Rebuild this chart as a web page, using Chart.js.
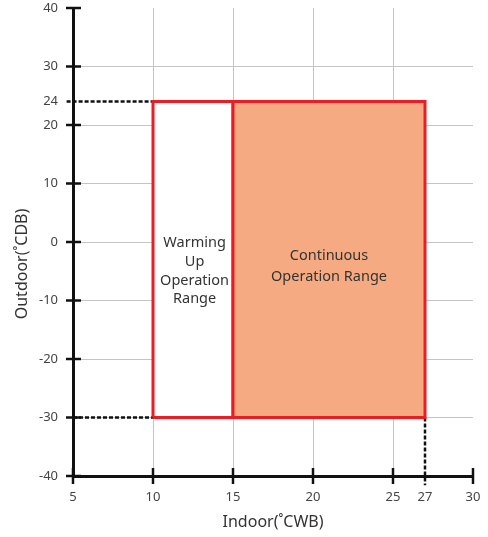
<!DOCTYPE html>
<html>
<head>
<meta charset="utf-8">
<script src="https://cdn.jsdelivr.net/npm/chart.js@4.4.1/dist/chart.umd.min.js"></script>
<style>
  html, body { margin: 0; padding: 0; background: #fff; }
  #wrap { width: 488px; height: 537px; }
</style>
</head>
<body>
<div id="wrap"><canvas id="myChart" width="488" height="537"></canvas></div>
<script>
// axis ticks
const xTicks = [5, 10, 15, 20, 25, 27, 30];
const yTicks = [40, 30, 24, 20, 10, 0, -10, -20, -30, -40];
const xGrid = [10, 15, 20, 25];
const yGrid = [30, 20, 10, 0, -10, -20, -30];
const xMarks = [5, 10, 15, 20, 25, 30];
const yMarks = [40, 30, 20, 10, 0, -10, -20, -30, -40];

// operation ranges (indoor x, outdoor y)
const warmingX = [10, 10, 15, 15, 10];
const warmingY = [-30, 24, 24, -30, -30];
const continuousX = [15, 15, 27, 27, 15];
const continuousY = [-30, 24, 24, -30, -30];

// dashed guide lines
const guideTopX = [4.6, 10];
const guideTopY = [24, 24];
const guideBottomX = [5, 10];
const guideBottomY = [-30, -30];
const guideRightX = [27, 27];
const guideRightY = [-30, -41.6];

// range labels
const rangeLabels = [["Warming", "Up", "Operation", "Range"], ["Continuous", "Operation Range"]];
const rangeLabelX = [12.6, 21];
const rangeLabelY = [-5, -4.1];

const FONT = "'Noto Sans', 'Open Sans', sans-serif";

function pts(xs, ys) {
  return xs.map((x, i) => ({ x: x, y: ys[i] }));
}

// no automatic label padding around the plot area
function noPad(s) {
  s.paddingTop = 0;
  s.paddingBottom = 0;
  s.paddingLeft = 0;
  s.paddingRight = 0;
}

const tickCross = {
  id: "tickCross",
  afterDatasetsDraw(chart) {
    const { ctx, chartArea: a, scales } = chart;
    ctx.save();
    ctx.strokeStyle = "#111";
    ctx.lineWidth = 2.5;
    xMarks.forEach((v) => {
      const px = scales.x.getPixelForValue(v);
      ctx.beginPath();
      ctx.moveTo(px, a.bottom - 8);
      ctx.lineTo(px, a.bottom + 8);
      ctx.stroke();
    });
    yMarks.forEach((v) => {
      const py = scales.y.getPixelForValue(v);
      ctx.beginPath();
      ctx.moveTo(a.left - 7, py);
      ctx.lineTo(a.left + 8, py);
      ctx.stroke();
    });

    // labels inside the ranges
    ctx.fillStyle = "#333";
    ctx.font = "14.5px " + FONT;
    ctx.textAlign = "center";
    ctx.textBaseline = "middle";
    rangeLabels.forEach((lines, i) => {
      const cx = scales.x.getPixelForValue(rangeLabelX[i]);
      const cy = scales.y.getPixelForValue(rangeLabelY[i]);
      const lh = i === 0 ? 18.7 : 21;
      lines.forEach((t, j) => {
        ctx.fillText(t, cx, cy + (j - (lines.length - 1) / 2) * lh);
      });
    });

    // y axis title
    ctx.save();
    ctx.translate(22, (a.top + a.bottom) / 2 + 22);
    ctx.rotate(-Math.PI / 2);
    ctx.font = "16px " + FONT;
    ctx.fillText("Outdoor(˚CDB)", 0, 0);
    ctx.restore();
    ctx.restore();
  },
};

const dashed = {
  borderColor: "#111",
  borderWidth: 2.5,
  borderDash: [4, 2],
  showLine: true,
  pointRadius: 0,
  clip: false,
};

const data = {
  datasets: [
    {
      label: "Continuous Operation Range",
      data: pts(continuousX, continuousY),
      borderColor: "#ec1c24",
      backgroundColor: "#f5aa82",
      borderWidth: 3,
      fill: "shape",
      showLine: true,
      pointRadius: 0,
      tension: 0,
    },
    {
      label: "Warming Up Operation Range",
      data: pts(warmingX, warmingY),
      borderColor: "#ec1c24",
      backgroundColor: "#ffffff",
      borderWidth: 3,
      fill: "shape",
      showLine: true,
      pointRadius: 0,
      tension: 0,
    },
    Object.assign({ data: pts(guideTopX, guideTopY) }, dashed),
    Object.assign({ data: pts(guideBottomX, guideBottomY) }, dashed),
    Object.assign({ data: pts(guideRightX, guideRightY) }, dashed),
  ],
};

const config = {
  type: "scatter",
  data: data,
  options: {
    responsive: false,
    animation: false,
    layout: { padding: { top: 8, right: 15, left: 0, bottom: 0 } },
    plugins: { legend: { display: false }, tooltip: { enabled: false } },
    scales: {
      x: {
        type: "linear",
        min: 5,
        max: 30,
        afterBuildTicks: (s) => { s.ticks = xTicks.map((v) => ({ value: v })); },
        afterFit: (s) => { s.height = 61; noPad(s); },
        border: { color: "#111", width: 3 },
        grid: {
          drawTicks: false,
          color: (c) => (c.tick && xGrid.includes(c.tick.value) ? "#c4c4c4" : "rgba(0,0,0,0)"),
          lineWidth: 1,
        },
        ticks: { padding: 13, color: "#444", font: { size: 13, family: FONT }, maxRotation: 0, autoSkip: false },
        title: {
          display: true,
          text: "Indoor(˚CWB)",
          color: "#333",
          font: { size: 16, family: FONT },
          padding: { top: 0, bottom: 5 },
        },
      },
      y: {
        type: "linear",
        min: -40,
        max: 40,
        afterBuildTicks: (s) => { s.ticks = yTicks.map((v) => ({ value: v })); },
        afterFit: (s) => { s.width = 73; noPad(s); },
        border: { color: "#111", width: 3 },
        grid: {
          drawTicks: false,
          color: (c) => (c.tick && yGrid.includes(c.tick.value) ? "#c4c4c4" : "rgba(0,0,0,0)"),
          lineWidth: 1,
        },
        ticks: { padding: 15, color: "#444", font: { size: 13, family: FONT }, autoSkip: false },
      },
    },
  },
  plugins: [tickCross],
};

new Chart(document.getElementById("myChart"), config);
</script>
</body>
</html>
